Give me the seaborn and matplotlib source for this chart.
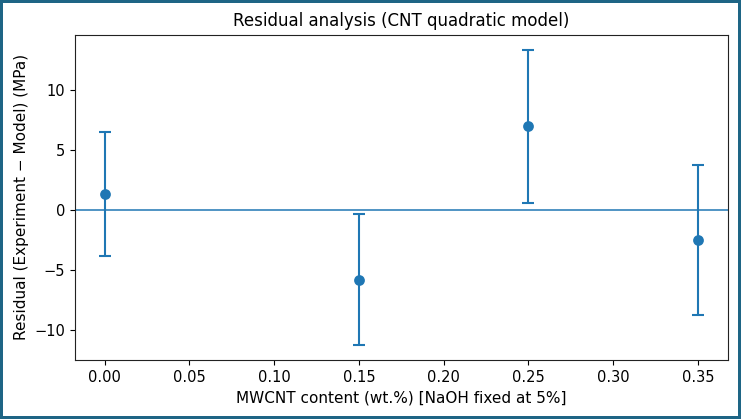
import matplotlib
matplotlib.use("Agg")
import matplotlib.pyplot as plt
import seaborn as sns
import pandas as pd

mwcnt = [0.00, 0.15, 0.25, 0.35]
residual = [1.34, -5.82, 6.97, -2.51]
err = [5.19, 5.48, 6.42, 6.28]

df = pd.DataFrame({"mwcnt": mwcnt, "residual": residual, "err": err})

sns.set_style("ticks", {"text.color": "black", "axes.labelcolor": "black",
                        "xtick.color": "black", "ytick.color": "black",
                        "axes.edgecolor": "#222222"})
plt.rcParams["font.family"] = ["DejaVu Sans"]

fig, ax = plt.subplots(figsize=(7.41, 4.19), dpi=100)
fig.patch.set_edgecolor("#1e6585")
fig.patch.set_linewidth(3)

ax.errorbar(df["mwcnt"], df["residual"], yerr=df["err"], fmt="none",
            ecolor="C0", elinewidth=1.5, capsize=4.5, capthick=1.5, zorder=2)
sns.scatterplot(data=df, x="mwcnt", y="residual", ax=ax, color="C0",
                s=60, edgecolor="C0", linewidth=0, zorder=3)
ax.axhline(0, color="C0", linewidth=1.1, zorder=1)

ax.set_title("Residual analysis (CNT quadratic model)", fontsize=12)
ax.set_xlabel("MWCNT content (wt.%) [NaOH fixed at 5%]", fontsize=11)
ax.set_ylabel("Residual (Experiment − Model) (MPa)", fontsize=11)
ax.tick_params(labelsize=10.5)
ax.set_xticks([0.0, 0.05, 0.10, 0.15, 0.20, 0.25, 0.30, 0.35])
ax.set_xticklabels(["0.00", "0.05", "0.10", "0.15", "0.20", "0.25", "0.30", "0.35"])
for s in ax.spines.values():
    s.set_visible(True)

fig.subplots_adjust(left=0.101, right=0.982, top=0.917, bottom=0.141)
fig.savefig("out.png", dpi=100, edgecolor=fig.get_edgecolor())
